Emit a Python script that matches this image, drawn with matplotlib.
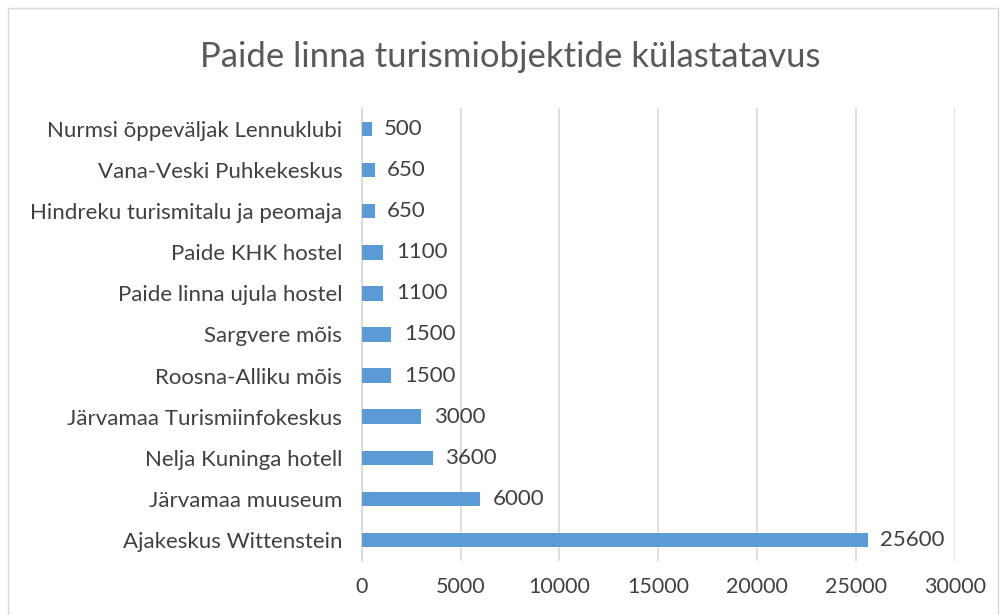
import matplotlib.pyplot as plt
from matplotlib.patches import Rectangle

categories = ['Ajakeskus Wittenstein', 'Järvamaa muuseum', 'Nelja Kuninga hotell',
              'Järvamaa Turismiinfokeskus', 'Roosna-Alliku mõis', 'Sargvere mõis',
              'Paide linna ujula hostel', 'Paide KHK hostel',
              'Hindreku turismitalu ja peomaja', 'Vana-Veski Puhkekeskus',
              'Nurmsi õppeväljak Lennuklubi']
values = [25600, 6000, 3600, 3000, 1500, 1500, 1100, 1100, 650, 650, 500]
xticks = [0, 5000, 10000, 15000, 20000, 25000, 30000]

plt.rcParams['font.family'] = ['Lato', 'DejaVu Sans']

fig = plt.figure(figsize=(10.02, 6.15), dpi=100)
ax = fig.add_axes([0.361, 0.0886, 0.592, 0.735])

pos = list(range(len(categories)))
ax.barh(pos, values, height=0.35, color='#5B9BD5', zorder=3)
for p, v in zip(pos, values):
    ax.annotate(str(v), (v, p), xytext=(9, 0), textcoords='offset points',
                va='center', ha='left', fontsize=16, color='#404040')

ax.set_xlim(0, 30000)
ax.set_ylim(-0.5, len(categories) - 0.5)
ax.set_xticks(xticks)
ax.set_xticklabels([str(t) for t in xticks])
ax.set_yticks(pos)
ax.set_yticklabels(categories)
ax.tick_params(axis='both', length=0, labelcolor='#404040')
ax.tick_params(axis='x', pad=12, labelsize=15.5)
ax.tick_params(axis='y', pad=14, labelsize=16)
ax.grid(axis='x', color='#D9D9D9', linewidth=1.2, zorder=0)
for s in ['top', 'right', 'bottom']:
    ax.spines[s].set_visible(False)
ax.spines['left'].set_color('#D9D9D9')
ax.spines['left'].set_linewidth(1.2)

fig.text(0.509, 0.908, 'Paide linna turismiobjektide külastatavus', ha='center', va='center',
         fontsize=25, color='#595959')

# chart border
fig.patches.append(Rectangle((0.008, -0.01), 0.988, 0.997, transform=fig.transFigure,
                             fill=False, edgecolor='#D9D9D9', linewidth=1))

plt.savefig('out.png', dpi=100)
